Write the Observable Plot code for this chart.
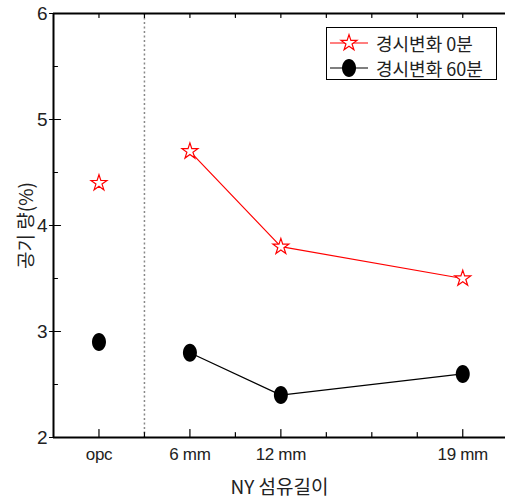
<!DOCTYPE html>
<html><head><meta charset="utf-8">
<script src="https://cdn.jsdelivr.net/npm/d3@7"></script>
<script src="https://cdn.jsdelivr.net/npm/@observablehq/plot@0.6"></script>
<style>
body{margin:0;background:#fff;}
#wrap{position:relative;width:505px;height:499px;overflow:hidden;}
#wrap svg [aria-label="y-axis tick label"] text{font-size:19px;font-family:'Liberation Sans',Arial,sans-serif;}
#wrap svg [aria-label="x-axis tick label"] text{font-size:17px;font-family:'Liberation Sans',Arial,sans-serif;letter-spacing:-0.3px;}
#wrap svg [aria-label="x-axis label"] text, #wrap svg [aria-label="y-axis label"] text{font-size:19px;}
.legend{position:absolute;left:326px;top:27px;width:171px;height:53px;border:1px solid #000;box-sizing:border-box;background:#fff;font-family:'Noto Sans CJK KR',sans-serif;font-size:18px;color:#222;}
.row{position:absolute;left:3px;height:24px;display:flex;align-items:center;white-space:nowrap;}
.row svg{margin-right:6px;}
</style>
</head><body>
<div id="wrap"></div>
<script>
// ---- data ----
const categories = ["opc", "6 mm", "12 mm", "19 mm"];
const positions = [1, 2, 3, 5];
const air0 = [4.4, 4.7, 3.8, 3.5];   // 경시변화 0분
const air60 = [2.9, 2.8, 2.4, 2.6];  // 경시변화 60분
const yTicks = [2, 3, 4, 5, 6];
const seriesNames = ["경시변화 0분", "경시변화 60분"];

const rows0 = categories.map((c, i) => ({cat: c, x: positions[i], y: air0[i], i}));
const rows60 = categories.map((c, i) => ({cat: c, x: positions[i], y: air60[i], i}));

const ellipse = {draw(ctx) {
  const rx = 7, ry = 9, k = 0.5523;
  ctx.moveTo(rx, 0);
  ctx.bezierCurveTo(rx, ry * k, rx * k, ry, 0, ry);
  ctx.bezierCurveTo(-rx * k, ry, -rx, ry * k, -rx, 0);
  ctx.bezierCurveTo(-rx, -ry * k, -rx * k, -ry, 0, -ry);
  ctx.bezierCurveTo(rx * k, -ry, rx, -ry * k, rx, 0);
  ctx.closePath();
}};
const tickShape = {draw(ctx, l) { ctx.moveTo(0, 0); ctx.lineTo(0, -l); }};

const xHalf = d3.range(1, 5.01, 0.5);
const xMajor = xHalf.filter(v => positions.includes(v));
const xMinor = xHalf.filter(v => !positions.includes(v));
const yMinor = d3.range(2.5, 6, 1);

const chart = Plot.plot({
  width: 505, height: 499,
  marginLeft: 53, marginRight: 0, marginTop: 13, marginBottom: 62,
  style: {fontFamily: "'Noto Sans CJK KR', sans-serif", fontSize: "17px", color: "#000", background: "#fff"},
  x: {type: "linear", domain: [0.5, 5.47]},
  y: {domain: [2, 6]},
  marks: [
    Plot.ruleX([1.5], {stroke: "#888", strokeWidth: 1.5, strokeDasharray: "2,2.5"}),
    Plot.ruleX([0.5], {y1: 2, y2: 6, stroke: "#000", strokeWidth: 2}),
    Plot.ruleY([2, 6], {stroke: "#000", strokeWidth: 2}),
    // bottom ticks (inward)
    Plot.vectorY(xMajor, {x: d => d, y: 2, length: 8, anchor: "start", shape: tickShape, strokeWidth: 1.2, stroke: "#000"}),
    Plot.vectorY(xMinor, {x: d => d, y: 2, length: 5, anchor: "start", shape: tickShape, strokeWidth: 1.2, stroke: "#000"}),
    // top ticks (inward)
    Plot.vectorY(xHalf, {x: d => d, y: 6, length: 4, anchor: "start", rotate: 180, shape: tickShape, strokeWidth: 1.2, stroke: "#000"}),
    // left ticks
    Plot.vectorX(yTicks, {x: 0.5, y: d => d, length: 11, anchor: "start", rotate: 90, dx: -4, shape: tickShape, strokeWidth: 1.2, stroke: "#000"}),
    Plot.vectorX(yMinor, {x: 0.5, y: d => d, length: 4, anchor: "start", rotate: 90, shape: tickShape, strokeWidth: 1.2, stroke: "#000"}),
    Plot.axisY({ticks: yTicks, tickFormat: "d", tickSize: 0, tickPadding: 6, fontSize: 19, fill: "#222",
      label: "공기 량(%)", labelAnchor: "center", labelArrow: "none", labelOffset: 34}),
    Plot.axisX({ticks: positions, tickFormat: v => categories[positions.indexOf(v)], tickSize: 0, tickPadding: 10, fontSize: 17, fill: "#222",
      label: "NY 섬유길이", labelAnchor: "center", labelArrow: "none", labelOffset: 56}),
    Plot.line(rows0.filter(d => d.i > 0), {x: "x", y: "y", stroke: "#f00", strokeWidth: 1.2}),
    Plot.line(rows60.filter(d => d.i > 0), {x: "x", y: "y", stroke: "#000", strokeWidth: 1.2}),
    Plot.dot(rows0, {x: "x", y: "y", symbol: "star", r: 5, stroke: "#f00", fill: "#fff", strokeWidth: 1.2}),
    Plot.dot(rows60, {x: "x", y: "y", symbol: ellipse, fill: "#000", stroke: "none"})
  ]
});
const wrap = document.getElementById("wrap");
wrap.appendChild(chart);

const legend = document.createElement("div");
legend.className = "legend";
const sw0 = `<svg width="40" height="22"><line x1="0" y1="11" x2="38" y2="11" stroke="#f00" stroke-width="1.2"/><path transform="translate(19,11)" d="${d3.symbol(d3.symbolStar, Math.PI * 25)()}" fill="#fff" stroke="#f00" stroke-width="1.2"/></svg>`;
const ep = d3.path(); ellipse.draw(ep);
const sw1 = `<svg width="40" height="22"><line x1="0" y1="11" x2="38" y2="11" stroke="#000" stroke-width="1.2"/><path transform="translate(19,11)" d="${ep.toString()}" fill="#000"/></svg>`;
legend.innerHTML = `<div class="row" style="top:3px">${sw0}<span>${seriesNames[0]}</span></div><div class="row" style="top:28px">${sw1}<span>${seriesNames[1]}</span></div>`;
wrap.appendChild(legend);
</script>
</body></html>
